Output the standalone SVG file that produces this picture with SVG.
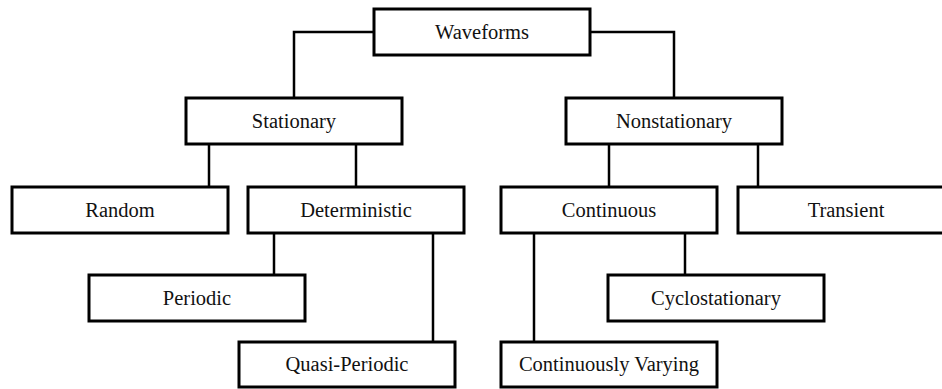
<svg xmlns="http://www.w3.org/2000/svg" width="942" height="389" viewBox="0 0 942 389">
<style>
.box{fill:#fff;stroke:#000;stroke-width:3}
.conn{fill:none;stroke:#000;stroke-width:2.5}
</style>
<rect width="942" height="389" fill="#fff"/>
<g id="connectors">
<path class="conn" d="M374,32 H294 V98"/>
<path class="conn" d="M590,32 H674 V98"/>
<path class="conn" d="M209,144 V187"/>
<path class="conn" d="M356,144 V187"/>
<path class="conn" d="M609,144 V187"/>
<path class="conn" d="M758,144 V187"/>
<path class="conn" d="M274,233 V275"/>
<path class="conn" d="M433,233 V342"/>
<path class="conn" d="M534,233 V342"/>
<path class="conn" d="M685,233 V275"/>
</g>
<g font-family="Liberation Serif, Times New Roman, serif" font-size="20.5" fill="#111" text-anchor="middle">
<g id="waveforms"><rect class="box" x="374" y="9" width="216" height="46"/><text x="482" y="39">Waveforms</text></g>
<g id="stationary"><rect class="box" x="186" y="98" width="216" height="46"/><text x="294" y="128">Stationary</text></g>
<g id="nonstationary"><rect class="box" x="566" y="98" width="216" height="46"/><text x="674" y="128">Nonstationary</text></g>
<g id="random"><rect class="box" x="12" y="187" width="216" height="46"/><text x="120" y="217">Random</text></g>
<g id="deterministic"><rect class="box" x="248" y="187" width="216" height="46"/><text x="356" y="217">Deterministic</text></g>
<g id="continuous"><rect class="box" x="501" y="187" width="216" height="46"/><text x="609" y="217">Continuous</text></g>
<g id="transient"><rect class="box" x="738" y="187" width="216" height="46"/><text x="846" y="217">Transient</text></g>
<g id="periodic"><rect class="box" x="89" y="275" width="216" height="46"/><text x="197" y="305">Periodic</text></g>
<g id="cyclostationary"><rect class="box" x="608" y="275" width="216" height="46"/><text x="716" y="305">Cyclostationary</text></g>
<g id="quasi-periodic"><rect class="box" x="239" y="342" width="216" height="45"/><text x="347" y="371">Quasi-Periodic</text></g>
<g id="continuously-varying"><rect class="box" x="501" y="342" width="216" height="45"/><text x="609" y="371">Continuously Varying</text></g>
</g>
</svg>
